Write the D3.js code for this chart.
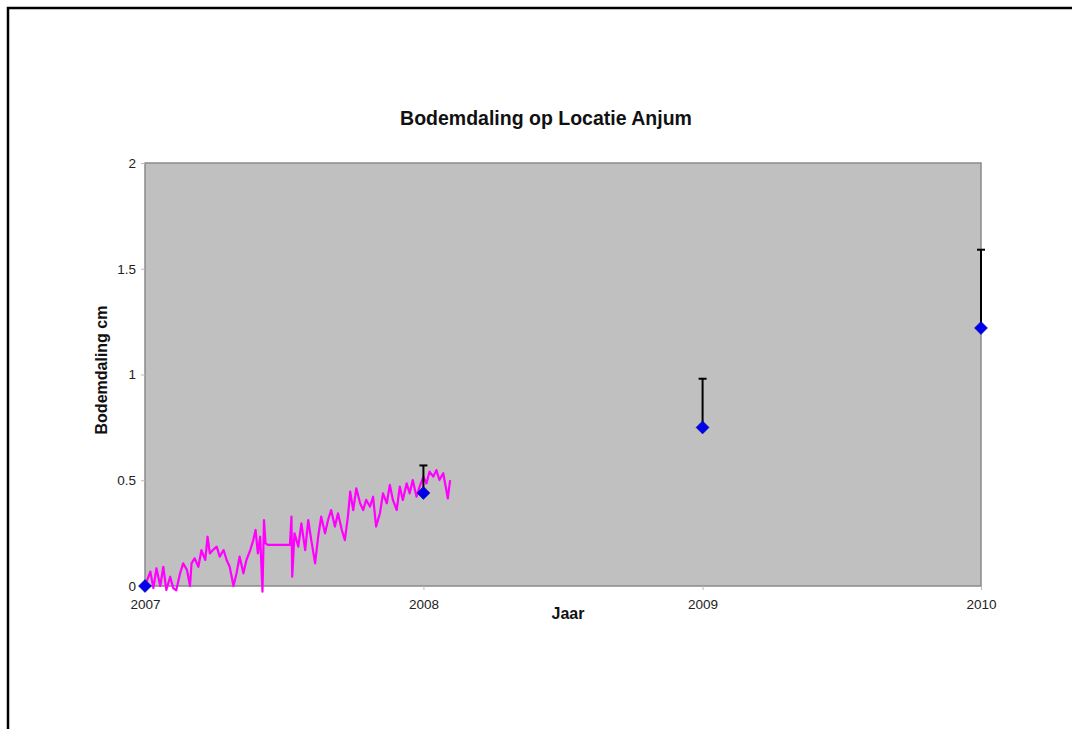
<!DOCTYPE html>
<html>
<head>
<meta charset="utf-8">
<script src="https://cdn.jsdelivr.net/npm/d3@7.9.0/dist/d3.min.js"></script>
<style>
  body { margin: 0; background: #fff; }
  svg { display: block; font-family: "Liberation Sans", Arial, sans-serif; }
</style>
</head>
<body>
<svg id="chart" width="1072" height="729"></svg>
<script>
// yearly measurements (blue diamonds) with upper error bar
const years = [2007, 2008, 2009, 2010];
const measured = [0, 0.44, 0.75, 1.22];
const upper = [null, 0.57, 0.98, 1.59];

// continuous record: days since 1 Jan 2007 and subsidence in cm
const days = [0, 7, 11, 15, 20, 24, 28, 33, 37, 41, 46, 50, 55, 59, 61, 65, 70, 74, 79, 82,
  85, 89, 94, 98, 103, 107, 111, 116, 120, 124, 129, 133, 138, 142, 145, 148, 151, 154, 156, 158,
  161, 190, 192, 193, 196, 201, 205, 210, 214, 218, 223, 227, 231, 236, 240, 244, 249, 253, 258, 262,
  266, 269, 273, 277, 282, 286, 290, 295, 299, 303, 308, 312, 317, 321, 325, 330, 334, 338, 343, 347,
  351, 356, 360, 365, 369, 373, 378, 382, 386, 391, 395, 397, 400];
const values = [0.00, 0.068, -0.01, 0.084, 0.00, 0.091, -0.019, 0.044, -0.01, -0.02, 0.06, 0.107, 0.076, 0.00, 0.107, 0.131, 0.091, 0.17, 0.123, 0.233,
  0.154, 0.17, 0.186, 0.139, 0.17, 0.123, 0.091, 0.00, 0.06, 0.139, 0.06, 0.123, 0.17, 0.217, 0.265, 0.154, 0.233, -0.027, 0.312, 0.202,
  0.194, 0.194, 0.328, 0.044, 0.249, 0.186, 0.296, 0.17, 0.312, 0.217, 0.107, 0.233, 0.328, 0.249, 0.312, 0.359, 0.281, 0.344, 0.265, 0.217,
  0.328, 0.446, 0.359, 0.462, 0.391, 0.359, 0.407, 0.375, 0.422, 0.281, 0.344, 0.438, 0.391, 0.478, 0.407, 0.359, 0.47, 0.407, 0.485, 0.438,
  0.501, 0.422, 0.47, 0.517, 0.485, 0.541, 0.517, 0.548, 0.501, 0.533, 0.454, 0.414, 0.501];

const yTicks = [0, 0.5, 1, 1.5, 2];

const svg = d3.select('#chart');
const plotLeft = 145, plotRight = 981, plotTop = 163, plotBottom = 586;

const x = d3.scaleTime()
  .domain([new Date(2007, 0, 1), new Date(2010, 0, 1)])
  .range([plotLeft, plotRight]);
const y = d3.scaleLinear().domain([0, 2]).range([plotBottom, plotTop]);

// outer frame (runs off the right and bottom edges)
svg.append('rect')
  .attr('x', 8).attr('y', 8)
  .attr('width', 1100).attr('height', 760)
  .attr('fill', 'none').attr('stroke', '#000').attr('stroke-width', 2.5);

// plot area
svg.append('rect')
  .attr('x', plotLeft).attr('y', plotTop)
  .attr('width', plotRight - plotLeft).attr('height', plotBottom - plotTop)
  .attr('fill', '#c0c0c0').attr('stroke', '#8a8a8a').attr('stroke-width', 1.5);

// axes
const yAxis = svg.append('g')
  .attr('transform', `translate(${plotLeft},0)`)
  .call(d3.axisLeft(y).tickValues(yTicks).tickFormat(d3.format('')).tickSize(4).tickPadding(5));
const xAxis = svg.append('g')
  .attr('transform', `translate(0,${plotBottom})`)
  .call(d3.axisBottom(x).tickValues(years.map(d => new Date(d, 0, 1)))
    .tickFormat(d3.timeFormat('%Y')).tickSize(4).tickPadding(9));
[yAxis, xAxis].forEach(g => {
  g.select('.domain').remove();
  g.selectAll('line').attr('stroke', '#bbb');
  g.selectAll('text').attr('font-size', 13.5).attr('fill', '#222')
    .attr('font-family', '"Liberation Sans", Arial, sans-serif');
});

// continuous series
const series = days.map((d, i) => ({ date: d3.timeDay.offset(new Date(2007, 0, 1), d), v: values[i] }));
svg.append('path')
  .datum(series)
  .attr('fill', 'none')
  .attr('stroke', '#ff00ff')
  .attr('stroke-width', 2.2)
  .attr('stroke-linejoin', 'round')
  .attr('d', d3.line().x(d => x(d.date)).y(d => y(d.v)));

// error bars
years.forEach((yr, i) => {
  if (upper[i] === null) return;
  const cx = x(new Date(yr, 0, 1));
  svg.append('line')
    .attr('x1', cx).attr('x2', cx)
    .attr('y1', y(measured[i])).attr('y2', y(upper[i]))
    .attr('stroke', '#000').attr('stroke-width', 2);
  svg.append('line')
    .attr('x1', cx - 4).attr('x2', cx + 4)
    .attr('y1', y(upper[i])).attr('y2', y(upper[i]))
    .attr('stroke', '#000').attr('stroke-width', 2);
});

// diamonds
svg.selectAll('.pt')
  .data(years)
  .join('path')
  .attr('class', 'pt')
  .attr('transform', (d, i) => `translate(${x(new Date(d, 0, 1))},${y(measured[i])})`)
  .attr('d', 'M0,-6.5L6.5,0L0,6.5L-6.5,0Z')
  .attr('fill', '#0000ee')
  .attr('stroke', '#000080').attr('stroke-width', 0.5);

// titles
svg.append('text')
  .attr('x', 546).attr('y', 125)
  .attr('text-anchor', 'middle')
  .attr('font-size', 19.5).attr('font-weight', 'bold').attr('fill', '#111')
  .text('Bodemdaling op Locatie Anjum');
svg.append('text')
  .attr('x', 568).attr('y', 619)
  .attr('text-anchor', 'middle')
  .attr('font-size', 16).attr('font-weight', 'bold').attr('fill', '#111')
  .text('Jaar');
svg.append('text')
  .attr('transform', 'translate(107,370) rotate(-90)')
  .attr('text-anchor', 'middle')
  .attr('font-size', 16).attr('font-weight', 'bold').attr('fill', '#111')
  .text('Bodemdaling cm');
</script>
</body>
</html>
